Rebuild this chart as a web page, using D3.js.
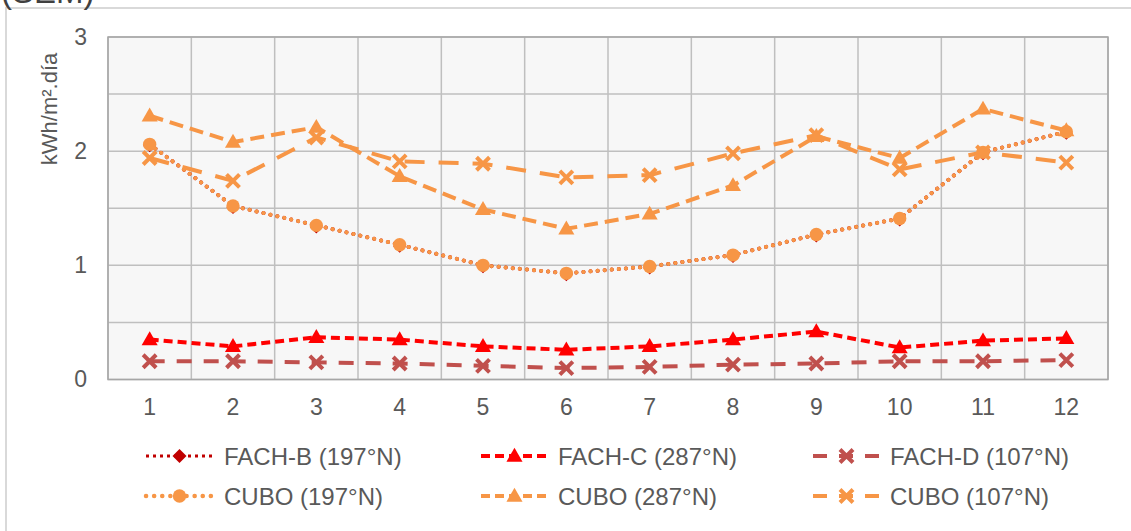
<!DOCTYPE html>
<html>
<head>
<meta charset="utf-8">
<script src="https://cdn.jsdelivr.net/npm/d3@7"></script>
<style>
  html, body { margin: 0; padding: 0; background: #fff; }
  svg { display: block; font-family: "Liberation Sans", Arial, sans-serif; }
</style>
</head>
<body>
<svg id="chart" width="1131" height="531"></svg>
<script>
// Months 1..12
const months = [1, 2, 3, 4, 5, 6, 7, 8, 9, 10, 11, 12];
const yTicks = [0, 1, 2, 3];

// Daily irradiation (kWh/m².día) per month
const fachB197 = [2.06, 1.52, 1.35, 1.18, 1.00, 0.93, 0.99, 1.09, 1.27, 1.41, 1.99, 2.17];
const fachC287 = [0.35, 0.29, 0.37, 0.35, 0.29, 0.26, 0.29, 0.35, 0.42, 0.28, 0.34, 0.36];
const fachD107 = [0.16, 0.16, 0.15, 0.14, 0.12, 0.10, 0.11, 0.13, 0.14, 0.16, 0.16, 0.17];
const cubo197  = [2.06, 1.52, 1.35, 1.18, 1.00, 0.93, 0.99, 1.09, 1.27, 1.41, 1.99, 2.17];
const cubo287  = [2.31, 2.08, 2.21, 1.78, 1.49, 1.32, 1.45, 1.70, 2.13, 1.94, 2.37, 2.18];
const cubo107  = [1.94, 1.74, 2.12, 1.91, 1.89, 1.77, 1.79, 1.98, 2.14, 1.84, 1.99, 1.90];

const series = [
  { name: "FACH-B (197°N)", values: fachB197, color: "#C00000", dash: "0.1,7", cap: "round", width: 4,
    legDash: "3,4", legCap: "butt", legWidth: 3, marker: "diamond", col: 0, row: 0 },
  { name: "FACH-C (287°N)", values: fachC287, color: "#FF0000", dash: "9,5", cap: "butt", width: 4,
    legDash: "9,5", legCap: "butt", legWidth: 4, marker: "triangle", col: 1, row: 0 },
  { name: "FACH-D (107°N)", values: fachD107, color: "#C0504D", dash: "15,12", cap: "butt", width: 4,
    legDash: "14,12", legCap: "butt", legWidth: 4, marker: "x", col: 2, row: 0 },
  { name: "CUBO (197°N)", values: cubo197, color: "#F79646", dash: "0.1,7", cap: "round", width: 4,
    legDash: "0.1,8", legCap: "round", legWidth: 4.5, marker: "circle", col: 0, row: 1 },
  { name: "CUBO (287°N)", values: cubo287, color: "#F79646", dash: "14,7", cap: "butt", width: 4,
    legDash: "9,5", legCap: "butt", legWidth: 4, marker: "triangle", col: 1, row: 1 },
  { name: "CUBO (107°N)", values: cubo107, color: "#F79646", dash: "20,14", cap: "butt", width: 4,
    legDash: "14,12", legCap: "butt", legWidth: 4, marker: "x", col: 2, row: 1 }
];

const svg = d3.select("#chart");
const plot = { left: 108, right: 1108, top: 37, bottom: 379.5 };

// Outer chart frame (partially visible)
svg.append("path")
  .attr("d", "M6,531 V8 H1131")
  .attr("fill", "none")
  .attr("stroke", "#D9D9D9")
  .attr("stroke-width", 2);

// Heading above the frame, running off the top edge
svg.append("text")
  .attr("x", 1).attr("y", 3)
  .attr("font-size", 33)
  .attr("fill", "#404040")
  .text("(SEM)");

const x = d3.scaleBand().domain(months).range([plot.left, plot.right]);
const y = d3.scaleLinear().domain([0, 3]).range([plot.bottom, plot.top]);

// Plot background
svg.append("rect")
  .attr("x", plot.left).attr("y", plot.top)
  .attr("width", plot.right - plot.left).attr("height", plot.bottom - plot.top)
  .attr("fill", "#F7F7F7");

// Horizontal gridlines every 0.5
const gridY = d3.range(0, 3.01, 0.5);
svg.append("g").selectAll("line").data(gridY).join("line")
  .attr("x1", plot.left).attr("x2", plot.right)
  .attr("y1", d => y(d)).attr("y2", d => y(d))
  .attr("stroke", "#BFBFBF").attr("stroke-width", 1.5);

// Vertical gridlines at category boundaries
const bounds = months.map(m => x(m)).concat([plot.right]);
svg.append("g").selectAll("line").data(bounds).join("line")
  .attr("x1", d => d).attr("x2", d => d)
  .attr("y1", plot.top).attr("y2", plot.bottom)
  .attr("stroke", "#BFBFBF").attr("stroke-width", 1.5);

// Plot border
svg.append("rect")
  .attr("x", plot.left).attr("y", plot.top)
  .attr("width", plot.right - plot.left).attr("height", plot.bottom - plot.top)
  .attr("fill", "none").attr("stroke", "#A6A6A6").attr("stroke-width", 1.5);

// Axes
const xAxis = svg.append("g")
  .attr("transform", `translate(0,${plot.bottom})`)
  .call(d3.axisBottom(x).tickSize(0).tickPadding(19));
xAxis.select(".domain").remove();
xAxis.selectAll("text").attr("font-size", 23).attr("fill", "#595959")
  .attr("font-family", "Liberation Sans, Arial, sans-serif");

const yAxis = svg.append("g")
  .attr("transform", `translate(${plot.left},0)`)
  .call(d3.axisLeft(y).tickValues(yTicks).tickFormat(d3.format("d")).tickSize(0).tickPadding(21));
yAxis.select(".domain").remove();
yAxis.selectAll("text").attr("font-size", 23).attr("fill", "#595959")
  .attr("font-family", "Liberation Sans, Arial, sans-serif");

// Y-axis title
svg.append("text")
  .attr("transform", "translate(57,109) rotate(-90)")
  .attr("text-anchor", "middle")
  .attr("font-size", 22)
  .attr("fill", "#595959")
  .text("kWh/m².día");

// Marker shapes
function markerPath(type, big) {
  switch (type) {
    case "diamond": {
      const h = big ? 7 : 6.5;
      return `M0,${-h}L${h},0L0,${h}L${-h},0Z`;
    }
    case "triangle": return d3.symbol(d3.symbolTriangle, 112)();
    case "circle": return d3.symbol(d3.symbolCircle, 140)();
    case "x": return "M-6.5,-6.5L6.5,6.5M-6.5,6.5L6.5,-6.5";
  }
}
function drawMarker(g, s, cx, cy, inLegend) {
  if (s.marker === "x") {
    g.append("path").attr("transform", `translate(${cx},${cy})`)
      .attr("d", markerPath("x"))
      .attr("stroke", s.color).attr("stroke-width", 4).attr("fill", "none");
  } else {
    let dy = 0;
    if (s.marker === "triangle") dy = 1;
    if (s.marker === "diamond" && !inLegend) dy = 1.5;
    g.append("path").attr("transform", `translate(${cx},${cy + dy})`)
      .attr("d", markerPath(s.marker, inLegend))
      .attr("fill", s.color);
  }
}

const line = d3.line()
  .x((d, i) => x(months[i]) + x.bandwidth() / 2)
  .y(d => y(d));

series.forEach(s => {
  const g = svg.append("g");
  g.append("path")
    .datum(s.values)
    .attr("d", line)
    .attr("fill", "none")
    .attr("stroke", s.color)
    .attr("stroke-width", s.width)
    .attr("stroke-dasharray", s.dash)
    .attr("stroke-linecap", s.cap);
  s.values.forEach((v, i) => {
    drawMarker(g, s, x(months[i]) + x.bandwidth() / 2, y(v), false);
  });
});

// Legend
const legCols = [146, 481, 813];
const legTextX = [224, 558, 890];
const legRows = [456, 496];
const legW = 67;
series.forEach(s => {
  const lx = legCols[s.col], ly = legRows[s.row];
  const g = svg.append("g");
  g.append("line")
    .attr("x1", lx).attr("x2", lx + legW)
    .attr("y1", ly).attr("y2", ly)
    .attr("stroke", s.color).attr("stroke-width", s.legWidth)
    .attr("stroke-dasharray", s.legDash)
    .attr("stroke-linecap", s.legCap);
  drawMarker(g, s, lx + legW / 2, ly, true);
  g.append("text")
    .attr("x", legTextX[s.col])
    .attr("y", ly)
    .attr("dy", "0.36em")
    .attr("font-size", 24)
    .attr("fill", "#595959")
    .text(s.name);
});
</script>
</body>
</html>
